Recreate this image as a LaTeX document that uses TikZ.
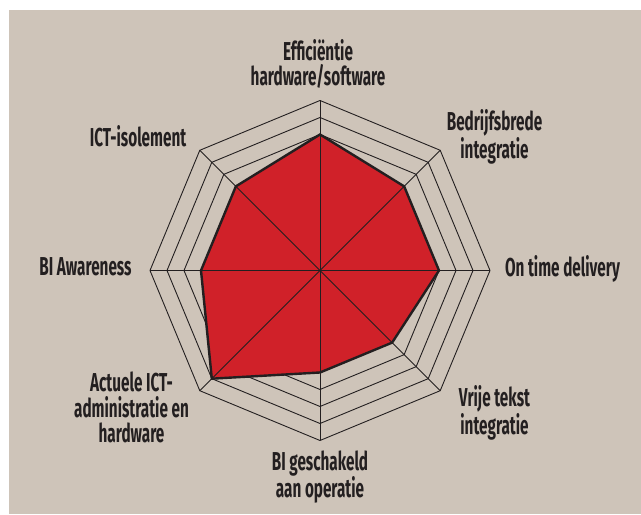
\documentclass[tikz,border=0pt]{standalone}
\usepackage{fontspec}
\setmainfont{Fira Sans}[FakeStretch=0.59]
\usetikzlibrary{positioning}
\definecolor{beige}{RGB}{206,196,185}
\definecolor{rood}{RGB}{208,33,41}
\definecolor{inkt}{RGB}{35,31,32}

\begin{document}
\begin{tikzpicture}[x=1bp, y=1bp,
            ring/.style={draw=inkt, line width=0.9bp},
            spaak/.style={draw=inkt, line width=0.8bp},
            score/.style={fill=rood, draw=inkt, line width=2.4bp, line join=miter},
            label/.style={font=\fontsize{26}{25.5}\selectfont\bfseries, text=inkt, align=center, inner sep=0pt},]

        % Achtergrond
        \useasboundingbox (0,0) rectangle (641,515);
        \fill[beige] (9,1) rectangle (641,505);

        \coordinate (midden) at (320,244.5);

        \begin{scope}[shift={(midden)}]
            % Ringen
            \foreach \r in {1,...,10}
                \draw[ring] (0:\r*17) \foreach \a in {45,90,...,315} { -- (\a:\r*17) } -- cycle;

            % Scores
            \draw[score] (90:8*17) -- (45:7*17) -- (0:7*17) -- (-45:6*17)
                -- (-90:6*17) -- (-135:9*17) -- (180:7*17) -- (135:7*17) -- cycle;

            % Punten buitenste ring
            \foreach \i in {1,...,8}
                \coordinate (buiten\i) at ({90-(\i-1)*45}:170);
        \end{scope}

        \foreach \i in {1,...,8}
            \path[spaak] (midden) edge (buiten\i);

        % Labels
        \node[label] (efficientie) at (318,451) {Efficiëntie\\hardware/software};
        \node[label] (bedrijfsbreed) at (494.5,378) {Bedrijfsbrede\\integratie};
        \node[label] (ontime) at (562.5,246) {On time delivery};
        \node[label] (vrijetekst) at (494.5,102) {Vrije tekst\\integratie};
        \node[label] (geschakeld) at (320,38) {BI geschakeld\\aan operatie};
        \node[label] (actueel) at (131.5,107.5) {Actuele ICT-\\administratie en\\hardware};
        \node[label] (awareness) at (85.5,248) {BI Awareness};
        \node[label] (isolement) at (138,379) {ICT-isolement};
    \end{tikzpicture}
\end{document}
